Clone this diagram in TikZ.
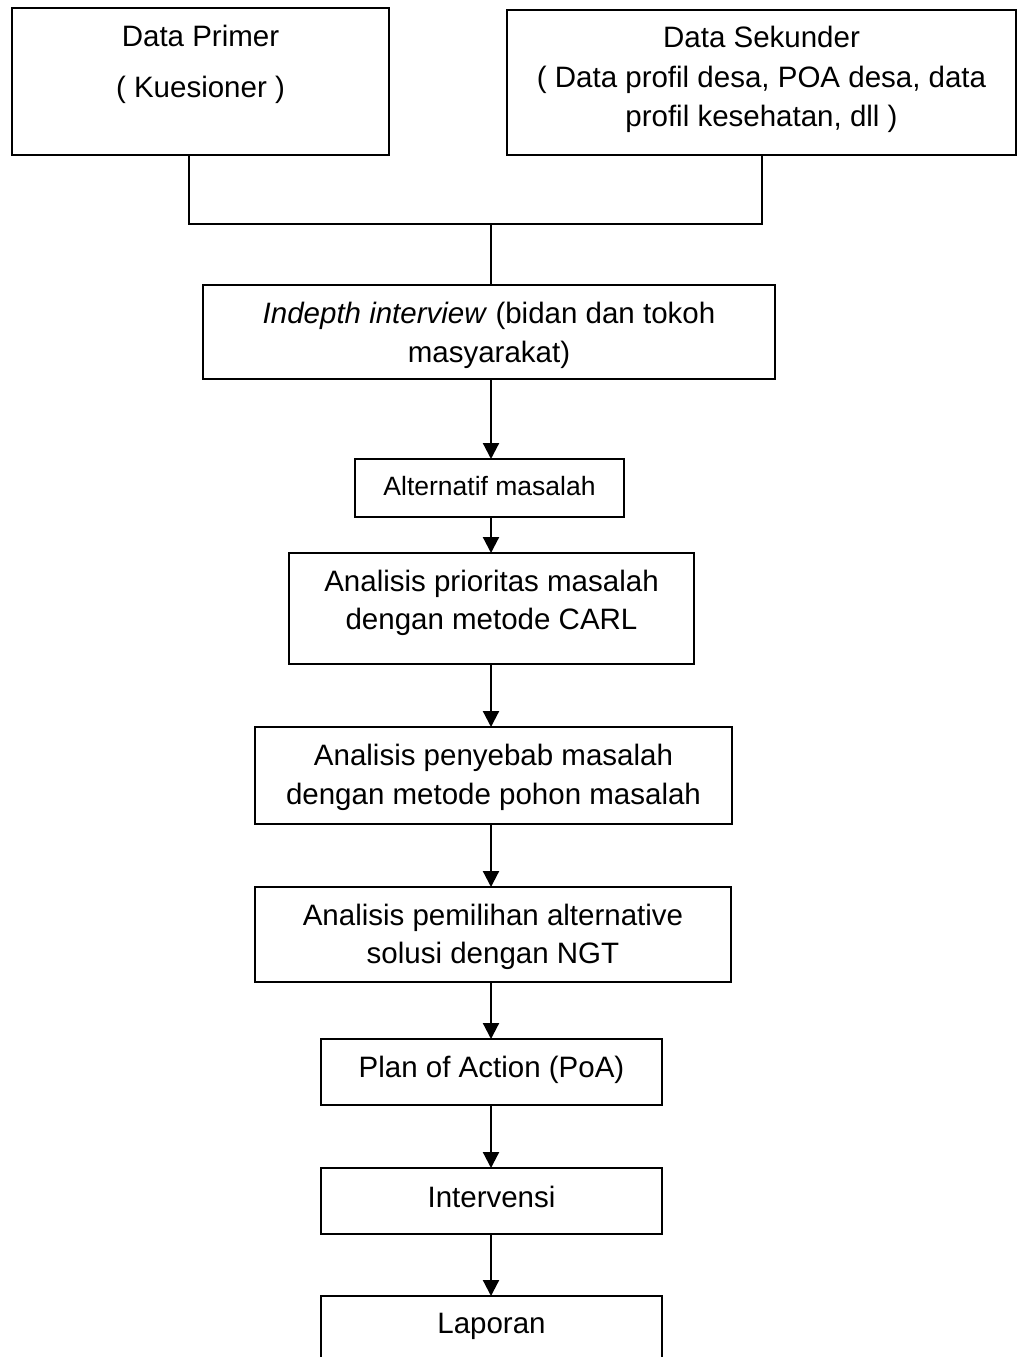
\documentclass[tikz,border=0pt]{standalone}
\usepackage{fontspec}
\setmainfont{Liberation Sans}
\usetikzlibrary{arrows.meta}
\begin{document}
\begin{tikzpicture}[x=1pt,y=-1pt,
  box/.style={draw, line width=2pt, inner sep=0pt, outer sep=0pt},
  txt/.style={anchor=base, inner sep=0pt, font=\fontsize{29.5}{36}\selectfont},
  smalltxt/.style={anchor=base, inner sep=0pt, font=\fontsize{26.5}{32}\selectfont},
  link/.style={line width=2pt},
  arr/.style={line width=2.2pt, -{Triangle[length=16pt,width=16pt]}}]
\useasboundingbox (0,0) rectangle (1017,1357);
\fill[white] (0,0) rectangle (1017,1357);

% boxes
\node[box, minimum width=377pt, minimum height=147pt] (prim) at (200.5,81.5) {};
\node[box, minimum width=509pt, minimum height=145pt] (sek) at (761.5,82.5) {};
\node[box, minimum width=572pt, minimum height=94pt] (ind) at (489,332) {};
\node[box, minimum width=269pt, minimum height=58pt] (alt) at (489.5,488) {};
\node[box, minimum width=405pt, minimum height=111pt] (pri) at (491.5,608.5) {};
\node[box, minimum width=477pt, minimum height=97pt] (pen) at (493.5,775.5) {};
\node[box, minimum width=476pt, minimum height=95pt] (pem) at (493,934.5) {};
\node[box, minimum width=341pt, minimum height=66pt] (poa) at (491.5,1072) {};
\node[box, minimum width=341pt, minimum height=66pt] (int) at (491.5,1201) {};
\node[box, minimum width=341pt, minimum height=80pt] (lap) at (491.5,1336) {};

% texts
\node[txt] (primA) at (200.5,46) {Data Primer};
\node[txt] (primB) at (200.5,97) {( Kuesioner )};
\node[txt] (sekA) at (761.5,47) {Data Sekunder};
\node[txt] (sekB) at (761.5,87) {( Data profil desa, POA desa, data};
\node[txt] (sekC) at (761.5,126) {profil kesehatan, dll )};
\node[txt] (indA) at (489,323) {\textit{Indepth interview} (bidan dan tokoh};
\node[txt] (indB) at (489,362) {masyarakat)};
\node[smalltxt] (altA) at (489.5,495.5) {Alternatif masalah};
\node[txt] (priA) at (491.5,591) {Analisis prioritas masalah};
\node[txt] (priB) at (491.5,629.5) {dengan metode CARL};
\node[txt] (penA) at (493.5,765) {Analisis penyebab masalah};
\node[txt] (penB) at (493.5,804) {dengan metode pohon masalah};
\node[txt] (pemA) at (493,925) {Analisis pemilihan alternative};
\node[txt] (pemB) at (493,963.5) {solusi dengan NGT};
\node[txt] (poaA) at (491.5,1077) {Plan of Action (PoA)};
\node[txt] (intA) at (491.5,1207) {Intervensi};
\node[txt] (lapA) at (491.5,1333) {Laporan};

% connectors
\coordinate (jl) at (189,224);
\coordinate (jr) at (762,224);
\coordinate (jm) at (491,224);
\coordinate (ax) at (491,0);
\draw[link] (prim.south -| jl) -- (jl) -- (jr) -- (sek.south -| jr);
\draw[link] (jm) -- (ind.north -| jm);
\draw[arr] (ind.south -| ax) -- (alt.north -| ax);
\draw[arr] (alt.south -| ax) -- (pri.north -| ax);
\draw[arr] (pri.south -| ax) -- (pen.north -| ax);
\draw[arr] (pen.south -| ax) -- (pem.north -| ax);
\draw[arr] (pem.south -| ax) -- (poa.north -| ax);
\draw[arr] (poa.south -| ax) -- (int.north -| ax);
\draw[arr] (int.south -| ax) -- (lap.north -| ax);
\end{tikzpicture}
\end{document}
